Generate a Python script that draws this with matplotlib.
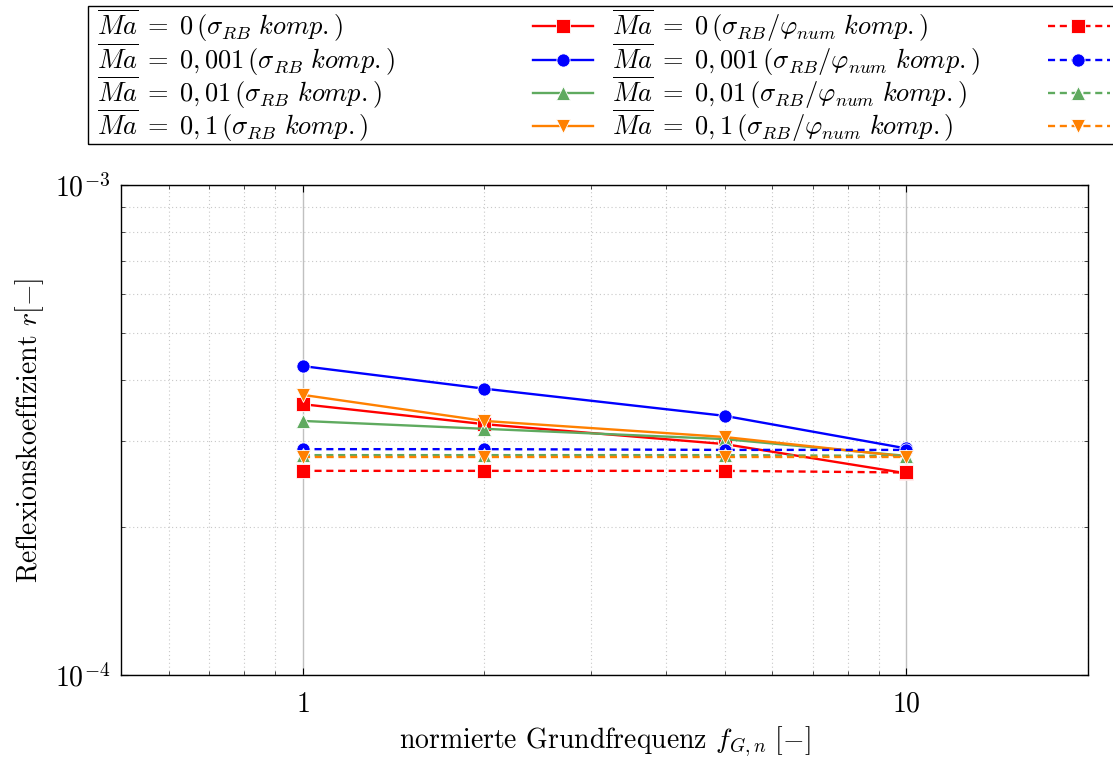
import matplotlib
matplotlib.use("Agg")
import matplotlib.pyplot as plt
from matplotlib.lines import Line2D
from matplotlib.patches import Rectangle
from matplotlib.ticker import FixedLocator, NullFormatter, LogLocator

plt.rcParams.update({
    "font.family": "cmr10",
    "mathtext.fontset": "cm",
    "axes.formatter.use_mathtext": True,
    "axes.unicode_minus": False,
})

# normalised fundamental frequency
freq = [1, 2, 5, 10]

# reflection coefficient, sigma_RB compensated (solid)
r_ma0 = [3.57e-4, 3.25e-4, 2.96e-4, 2.58e-4]
r_ma0001 = [4.27e-4, 3.84e-4, 3.38e-4, 2.90e-4]
r_ma001 = [3.30e-4, 3.18e-4, 3.03e-4, 2.80e-4]
r_ma01 = [3.73e-4, 3.30e-4, 3.06e-4, 2.79e-4]

# reflection coefficient, sigma_RB / phi_num compensated (dashed)
rn_ma0 = [2.61e-4, 2.61e-4, 2.61e-4, 2.59e-4]
rn_ma0001 = [2.89e-4, 2.89e-4, 2.88e-4, 2.88e-4]
rn_ma001 = [2.81e-4, 2.81e-4, 2.81e-4, 2.80e-4]
rn_ma01 = [2.79e-4, 2.79e-4, 2.79e-4, 2.79e-4]

mach_labels = ["0", "0,001", "0,01", "0,1"]
colors = ["#FF0000", "#0000FF", "#5FAA5F", "#FF8000"]
markers = ["s", "o", "^", "v"]

FS = 20
FS_LEG = 19
W, H = 1113, 760
fig = plt.figure(figsize=(W / 100, H / 100), dpi=100)
ax = fig.add_axes([121 / W, 1 - 675 / H, (1088 - 121) / W, (675 - 185) / H])

solid_sets = [r_ma0, r_ma0001, r_ma001, r_ma01]
dashed_sets = [rn_ma0, rn_ma0001, rn_ma001, rn_ma01]

LW = 1.7
MS = 9.5
common = dict(markeredgecolor="white", markeredgewidth=0.6, markersize=MS, lw=LW, zorder=3)

for vals, c, m in zip(solid_sets, colors, markers):
    ax.plot(freq, vals, color=c, marker=m, ls="-", **common)
for vals, c, m in zip(dashed_sets, colors, markers):
    ax.plot(freq, vals, color=c, marker=m, ls=(0, (3, 2)), **common)

ax.set_xscale("log")
ax.set_yscale("log")
ax.set_xlim(0.5, 20)
ax.set_ylim(1e-4, 1e-3)

ax.xaxis.set_major_locator(FixedLocator([1, 10]))
ax.set_xticklabels(["$1$", "$10$"])
ax.xaxis.set_minor_locator(FixedLocator([0.6, 0.7, 0.8, 0.9, 2, 3, 4, 5, 6, 7, 8, 9, 20]))
ax.xaxis.set_minor_formatter(NullFormatter())
ax.yaxis.set_major_locator(FixedLocator([1e-4, 1e-3]))
ax.set_yticklabels([r"$10^{-4}$", r"$10^{-3}$"])
ax.yaxis.set_minor_locator(LogLocator(base=10, subs=range(2, 10)))
ax.yaxis.set_minor_formatter(NullFormatter())

ax.tick_params(which="both", direction="in", top=True, right=True, labelsize=FS)
ax.tick_params(which="major", length=5, width=0.8)
ax.tick_params(which="minor", length=3, width=0.5)
ax.tick_params(axis="x", pad=12)
ax.tick_params(axis="y", pad=8)

ax.grid(which="major", color="#c0c0c0", lw=1.0, ls="-")
ax.grid(which="minor", color="#c8c8c8", lw=0.8, ls=(0, (1, 2.5)))
ax.set_axisbelow(True)
for s in ax.spines.values():
    s.set_linewidth(1.0)

ax.set_xlabel(r"normierte Grundfrequenz $f_{G,n}\ [-]$", fontsize=FS, labelpad=5)
ax.set_ylabel(r"Reflexionskoeffizient $r[-]$", fontsize=FS, labelpad=6)

# legend box drawn in figure pixel coordinates
def fx(px):
    return px / W

def fy(py):
    return 1 - py / H

fig.patches.append(Rectangle((fx(88), fy(144)), fx(1140) - fx(88), fy(6) - fy(144),
                             transform=fig.transFigure, fill=False, ec="black", lw=1.0))

baselines = [35, 68.5, 102, 135]
for i in range(4):
    yb = fy(baselines[i])
    yh = fy(baselines[i] - 9)
    fig.text(fx(97), yb, r"$\overline{Ma}\;=\;%s\,(\sigma_{RB}\ komp.)$" % mach_labels[i],
             fontsize=FS_LEG, va="baseline", ha="left")
    fig.text(fx(612), yb, r"$\overline{Ma}\;=\;%s\,(\sigma_{RB}/\varphi_{num}\ komp.)$" % mach_labels[i],
             fontsize=FS_LEG, va="baseline", ha="left")
    fig.add_artist(Line2D([fx(533), fx(593)], [yh, yh], transform=fig.transFigure,
                          color=colors[i], lw=LW))
    fig.add_artist(Line2D([fx(563)], [yh], transform=fig.transFigure, color=colors[i],
                          marker=markers[i], markersize=MS, markeredgecolor="white",
                          markeredgewidth=0.6, ls="none"))
    fig.add_artist(Line2D([fx(1048), fx(1110)], [yh, yh], transform=fig.transFigure,
                          color=colors[i], lw=LW, ls=(0, (3, 2))))
    fig.add_artist(Line2D([fx(1078)], [yh], transform=fig.transFigure, color=colors[i],
                          marker=markers[i], markersize=MS, markeredgecolor="white",
                          markeredgewidth=0.6, ls="none"))

fig.savefig("out.png", dpi=100)
